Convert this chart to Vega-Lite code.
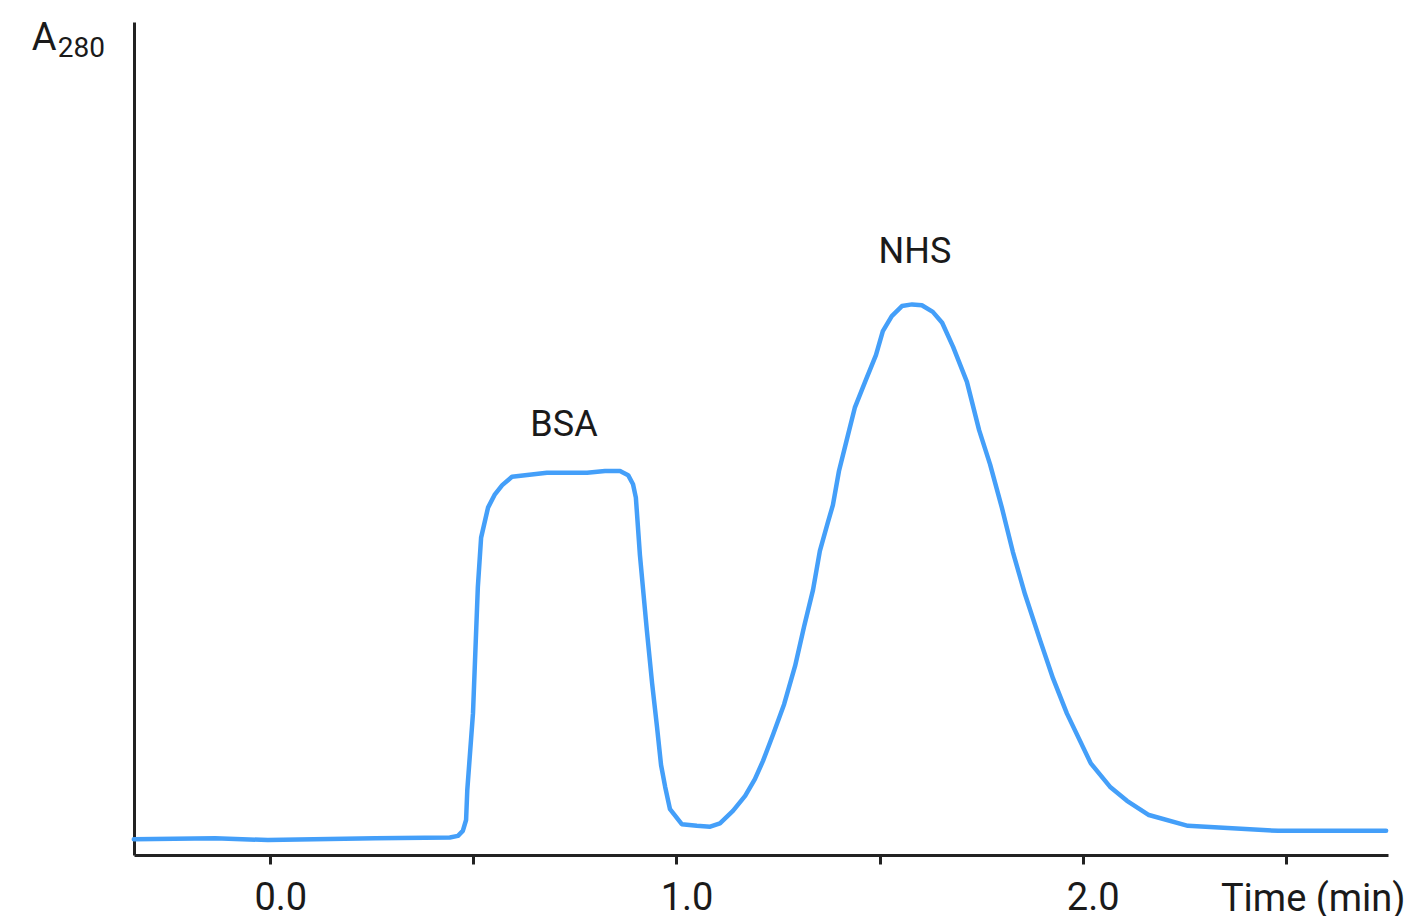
{
  "$schema": "https://vega.github.io/schema/vega-lite/v6.json",
  "width": 1254,
  "height": 833,
  "autosize": {"type": "none"},
  "padding": {"left": 134, "top": 22, "right": 21, "bottom": 61},
  "background": "white",
  "config": {
    "view": {"stroke": null},
    "font": "Roboto",
    "text": {"font": "Roboto", "color": "#1a1a1a"}
  },
  "datasets": {
    "trace": [
      {"t": -0.336, "a": 0.019}, {"t": -0.136, "a": 0.020}, {"t": -0.006, "a": 0.018},
      {"t": 0.258, "a": 0.020}, {"t": 0.442, "a": 0.021}, {"t": 0.462, "a": 0.023},
      {"t": 0.474, "a": 0.029}, {"t": 0.482, "a": 0.042}, {"t": 0.485, "a": 0.078},
      {"t": 0.499, "a": 0.170}, {"t": 0.511, "a": 0.322}, {"t": 0.519, "a": 0.381},
      {"t": 0.536, "a": 0.417}, {"t": 0.553, "a": 0.433}, {"t": 0.571, "a": 0.444},
      {"t": 0.595, "a": 0.454}, {"t": 0.681, "a": 0.459}, {"t": 0.780, "a": 0.459},
      {"t": 0.824, "a": 0.461}, {"t": 0.861, "a": 0.461}, {"t": 0.881, "a": 0.456},
      {"t": 0.893, "a": 0.445}, {"t": 0.900, "a": 0.429}, {"t": 0.910, "a": 0.360},
      {"t": 0.927, "a": 0.270}, {"t": 0.940, "a": 0.206}, {"t": 0.952, "a": 0.154},
      {"t": 0.962, "a": 0.108}, {"t": 0.972, "a": 0.082}, {"t": 0.984, "a": 0.055},
      {"t": 1.013, "a": 0.037}, {"t": 1.050, "a": 0.035}, {"t": 1.083, "a": 0.034},
      {"t": 1.107, "a": 0.038}, {"t": 1.139, "a": 0.053}, {"t": 1.169, "a": 0.071},
      {"t": 1.193, "a": 0.091}, {"t": 1.213, "a": 0.113}, {"t": 1.238, "a": 0.145},
      {"t": 1.265, "a": 0.181}, {"t": 1.292, "a": 0.227}, {"t": 1.314, "a": 0.274},
      {"t": 1.336, "a": 0.318}, {"t": 1.353, "a": 0.365}, {"t": 1.373, "a": 0.400},
      {"t": 1.385, "a": 0.420}, {"t": 1.400, "a": 0.461}, {"t": 1.419, "a": 0.498},
      {"t": 1.439, "a": 0.537}, {"t": 1.466, "a": 0.570}, {"t": 1.491, "a": 0.600},
      {"t": 1.508, "a": 0.629}, {"t": 1.530, "a": 0.647}, {"t": 1.555, "a": 0.659},
      {"t": 1.580, "a": 0.661}, {"t": 1.604, "a": 0.660}, {"t": 1.631, "a": 0.652},
      {"t": 1.654, "a": 0.639}, {"t": 1.681, "a": 0.610}, {"t": 1.715, "a": 0.568},
      {"t": 1.745, "a": 0.510}, {"t": 1.772, "a": 0.469}, {"t": 1.801, "a": 0.417},
      {"t": 1.828, "a": 0.364}, {"t": 1.858, "a": 0.313}, {"t": 1.895, "a": 0.258},
      {"t": 1.927, "a": 0.212}, {"t": 1.961, "a": 0.170}, {"t": 2.020, "a": 0.110},
      {"t": 2.067, "a": 0.082}, {"t": 2.109, "a": 0.065}, {"t": 2.163, "a": 0.048},
      {"t": 2.259, "a": 0.035}, {"t": 2.481, "a": 0.029}, {"t": 2.747, "a": 0.029}
    ],
    "peaks": [
      {"t": 0.723, "a": 0.503, "label": "BSA"},
      {"t": 1.587, "a": 0.711, "label": "NHS"}
    ],
    "ylabA": [{"t": -0.587, "a": 0.966, "label": "A"}],
    "ylabSub": [{"t": -0.523, "a": 0.958, "label": "280"}]
  },
  "layer": [
    {
      "data": {"name": "trace"},
      "mark": {"type": "line", "color": "#449ff9", "strokeWidth": 4.5, "strokeJoin": "round", "strokeCap": "round"},
      "encoding": {
        "x": {
          "field": "t", "type": "quantitative",
          "scale": {"domain": [-0.3355, 2.7516], "nice": false, "zero": false},
          "axis": {
            "values": [0, 0.5, 1, 1.5, 2, 2.5],
            "labelExpr": "datum.value % 1 == 0 ? format(datum.value, '.1f') : ''",
            "grid": false,
            "domainColor": "#222222", "domainWidth": 3,
            "tickColor": "#222222", "tickWidth": 3, "tickSize": 9,
            "labelFont": "Roboto", "labelFontSize": 38, "labelColor": "#1a1a1a",
            "labelPadding": 15, "labelOffset": 10, "labelFlush": false, "labelOverlap": false,
            "title": "Time (min)",
            "titleFont": "Roboto", "titleFontSize": 38, "titleFontWeight": "normal", "titleColor": "#1a1a1a",
            "titleAlign": "right", "titleBaseline": "alphabetic", "titleAnchor": null,
            "titleX": 1271, "titleY": 55
          }
        },
        "y": {
          "field": "a", "type": "quantitative",
          "scale": {"domain": [0, 1], "nice": false, "zero": true},
          "axis": {
            "domain": true, "domainColor": "#222222", "domainWidth": 3,
            "ticks": false, "labels": false, "grid": false, "title": null
          }
        }
      }
    },
    {
      "data": {"name": "peaks"},
      "mark": {"type": "text", "fontSize": 36, "align": "center", "baseline": "alphabetic", "color": "#1a1a1a"},
      "encoding": {
        "x": {"field": "t", "type": "quantitative"},
        "y": {"field": "a", "type": "quantitative"},
        "text": {"field": "label"}
      }
    },
    {
      "data": {"name": "ylabA"},
      "mark": {"type": "text", "fontSize": 38, "align": "left", "baseline": "alphabetic", "color": "#1a1a1a"},
      "encoding": {
        "x": {"field": "t", "type": "quantitative"},
        "y": {"field": "a", "type": "quantitative"},
        "text": {"field": "label"}
      }
    },
    {
      "data": {"name": "ylabSub"},
      "mark": {"type": "text", "fontSize": 28, "align": "left", "baseline": "alphabetic", "color": "#1a1a1a"},
      "encoding": {
        "x": {"field": "t", "type": "quantitative"},
        "y": {"field": "a", "type": "quantitative"},
        "text": {"field": "label"}
      }
    }
  ]
}
